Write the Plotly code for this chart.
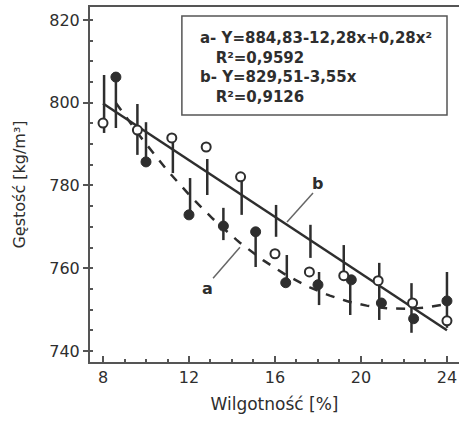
import numpy as np
import plotly.graph_objects as go

# Series b (open circles)
b_x = [8.0, 9.6, 11.2, 12.8, 14.4, 16.0, 17.6, 19.2, 20.8, 22.4, 24.0]
b_y = [795.1, 793.4, 791.5, 789.3, 782.1, 763.5, 759.1, 758.2, 757.0, 751.6, 747.3]
# Series a (filled circles)
a_x = [8.6, 10.0, 12.0, 13.6, 15.1, 16.5, 18.0, 19.55, 20.95, 22.45, 24.0]
a_y = [806.2, 785.7, 772.9, 770.2, 768.8, 756.5, 756.0, 757.2, 751.6, 747.8, 752.1]
# Vertical spread bars
seg_x = [8.05, 8.6, 9.6, 10.0, 11.25, 12.05, 12.85, 13.6, 14.45, 15.1, 16.05,
         16.55, 17.65, 18.05, 19.2, 19.5, 20.85, 22.35, 24.0]
seg_lo = [792.7, 793.9, 787.4, 785.7, 783.0, 772.6, 777.7, 766.8, 772.9, 760.3, 767.6,
          756.4, 762.5, 751.1, 758.1, 748.7, 747.5, 744.4, 745.6]
seg_hi = [806.7, 806.2, 799.7, 795.3, 791.5, 781.8, 786.4, 774.6, 782.1, 768.8, 775.3,
          763.2, 770.5, 759.1, 765.6, 758.1, 761.3, 756.4, 759.1]
# Fit a (quadratic coefficients from the chart) and fit b (line endpoints)
fit_a_coef = [884.83, -12.28, 0.28]
fit_a_range = [8.6, 24.0]
fit_b_x = [8.0, 24.0]
fit_b_y = [799.8, 745.0]

x_ticks = [8, 12, 16, 20, 24]
y_ticks = [740, 760, 780, 800, 820]

legend_lines = ["a- Y=884,83-12,28x+0,28x²", "\u00a0\u00a0\u00a0R²=0,9592",
                "b- Y=829,51-3,55x", "\u00a0\u00a0\u00a0R²=0,9126"]

C = "#2e2e2e"
FONT = "DejaVu Sans"

fig = go.Figure()

# bars
sx, sy = [], []
for x, lo, hi in zip(seg_x, seg_lo, seg_hi):
    sx += [x, x, None]
    sy += [lo, hi, None]
fig.add_trace(go.Scatter(x=sx, y=sy, mode="lines", line=dict(color=C, width=2.5),
                         hoverinfo="skip", showlegend=False))

# fit a dashed
xa = np.linspace(fit_a_range[0], fit_a_range[1], 100)
ya = fit_a_coef[0] + fit_a_coef[1] * xa + fit_a_coef[2] * xa ** 2
fig.add_trace(go.Scatter(x=xa, y=ya, mode="lines",
                         line=dict(color=C, width=2.5, dash="9px,9px"), showlegend=False))
# fit b solid
fig.add_trace(go.Scatter(x=fit_b_x, y=fit_b_y, mode="lines",
                         line=dict(color=C, width=2.5), showlegend=False))

fig.add_trace(go.Scatter(x=a_x, y=a_y, mode="markers",
                         marker=dict(color=C, size=10, line=dict(color=C, width=1)),
                         showlegend=False))
fig.add_trace(go.Scatter(x=b_x, y=b_y, mode="markers",
                         marker=dict(color="white", size=9, line=dict(color=C, width=2)),
                         showlegend=False))

# labels a, b with leaders
fig.add_annotation(x=12.88, y=755.2, text="<b>a</b>", showarrow=False,
                   font=dict(family=FONT, size=16, color=C))
fig.add_shape(type="line", x0=13.12, y0=757.6, x1=14.37, y1=765.1,
              line=dict(color="#666", width=1.5))
fig.add_annotation(x=18.0, y=780.6, text="<b>b</b>", showarrow=False,
                   font=dict(family=FONT, size=16, color=C))
fig.add_shape(type="line", x0=17.77, y0=778.2, x1=16.56, y1=771.2,
              line=dict(color="#666", width=1.5))

# legend box
fig.add_shape(type="rect", xref="paper", yref="paper", x0=0.249, x1=0.9675, y0=0.696, y1=0.975,
              line=dict(color="#555", width=1.5), fillcolor="white", layer="below")
fig.add_annotation(xref="paper", yref="paper", x=0.2927, y=0.829,
                   text="<b>" + "<br>".join(legend_lines) + "</b>",
                   showarrow=False, xanchor="left", yanchor="middle", align="left",
                   font=dict(family=FONT, size=15, color=C))

fig.update_layout(
    width=459, height=425, margin=dict(l=90, r=0, t=7, b=63, autoexpand=False),
    paper_bgcolor="white", plot_bgcolor="white",
    font=dict(family=FONT, size=16, color=C),
)
fig.update_xaxes(range=[7.395, 24.56], tickvals=x_ticks, ticks="inside", ticklen=6,
                 tickwidth=1.5, tickcolor="#555", showline=True, linecolor="#555", linewidth=2,
                 mirror=True, showgrid=False, zeroline=False, automargin=False,
                 minor=dict(dtick=1, tick0=0, ticks="inside", ticklen=3, tickcolor="#555"),
                 title=dict(text="Wilgotność [%]", font=dict(size=17), standoff=12),
                 tickfont=dict(size=16))
fig.update_yaxes(range=[737.34, 823.14], tickvals=y_ticks, ticks="outside", ticklen=5,
                 tickwidth=1.5, tickcolor="#555", showline=True, linecolor="#555", linewidth=2,
                 showgrid=False, zeroline=False, automargin=False,
                 minor=dict(dtick=5, tick0=0, ticks="inside", ticklen=3, tickcolor="#555"),
                 title=dict(text="Gęstość [kg/m³]", font=dict(size=16), standoff=20),
                 tickfont=dict(size=16))

fig.write_html("out.html", config={"displayModeBar": False},
               post_script="document.body.style.margin='0';document.body.style.overflow='hidden';")
